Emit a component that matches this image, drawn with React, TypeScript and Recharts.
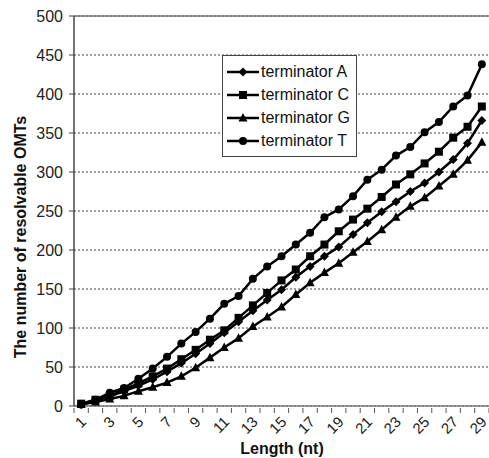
import { LineChart, Line, XAxis, YAxis, CartesianGrid, ReferenceLine } from "recharts";

const lengths = [1, 2, 3, 4, 5, 6, 7, 8, 9, 10, 11, 12, 13, 14, 15, 16, 17, 18, 19, 20, 21, 22, 23, 24, 25, 26, 27, 28, 29];
const termA = [2, 7, 12, 19, 26, 34, 44, 55, 67, 80, 94, 108, 122, 136, 149, 165, 179, 192, 204, 220, 235, 249, 262, 275, 286, 300, 316, 337, 366];
const termC = [3, 8, 13, 21, 29, 38, 48, 60, 72, 85, 97, 113, 129, 145, 161, 175, 192, 207, 224, 239, 253, 268, 284, 297, 311, 326, 344, 358, 384];
const termG = [2, 5, 9, 13, 19, 24, 30, 38, 49, 62, 75, 87, 102, 114, 127, 143, 158, 171, 183, 197, 211, 226, 242, 256, 267, 282, 297, 315, 338];
const termT = [2, 8, 17, 23, 35, 48, 63, 80, 95, 112, 131, 141, 163, 179, 192, 207, 222, 242, 252, 269, 290, 303, 321, 332, 351, 364, 384, 398, 438];
const yTicks = [0, 50, 100, 150, 200, 250, 300, 350, 400, 450, 500];

const data = lengths.map((len, i) => ({
  len,
  A: termA[i],
  C: termC[i],
  G: termG[i],
  T: termT[i],
}));

const FONT = "'Liberation Sans', Arial, sans-serif";
const HALF_BAND = 7.16;

const Diamond = ({ cx, cy }: any) => (
  <path d={`M${cx},${cy - 4.5}L${cx + 4.5},${cy}L${cx},${cy + 4.5}L${cx - 4.5},${cy}Z`} fill="#000" />
);
const Square = ({ cx, cy }: any) => <rect x={cx - 4} y={cy - 4} width={8} height={8} fill="#000" />;
const Triangle = ({ cx, cy }: any) => (
  <path d={`M${cx},${cy - 5}L${cx + 4.5},${cy + 3.5}L${cx - 4.5},${cy + 3.5}Z`} fill="#000" />
);
const Circle = ({ cx, cy }: any) => <circle cx={cx} cy={cy} r={4} fill="#000" />;

const series = [
  { key: "A", name: "terminator A", shape: Diamond },
  { key: "C", name: "terminator C", shape: Square },
  { key: "G", name: "terminator G", shape: Triangle },
  { key: "T", name: "terminator T", shape: Circle },
];

const XTick = ({ x, y, payload, index }: any) => {
  const showLabel = payload.value % 2 === 1;
  return (
    <g>
      <line x1={x - HALF_BAND} y1={y} x2={x - HALF_BAND} y2={y + 5} stroke="#555" />
      {index === lengths.length - 1 && (
        <line x1={x + HALF_BAND} y1={y} x2={x + HALF_BAND} y2={y + 5} stroke="#555" />
      )}
      {showLabel && (
        <text
          transform={`translate(${x + 2},${y + 11}) rotate(-45)`}
          textAnchor="end"
          dominantBaseline="central"
          fontSize={15}
          fontFamily={FONT}
          fill="#222"
        >
          {payload.value}
        </text>
      )}
    </g>
  );
};

const LegendBox = () => (
  <div
    style={{
      position: "absolute",
      left: 222,
      top: 55,
      border: "1px solid #444",
      background: "#fff",
      padding: "4px 6px 4px 3px",
      fontFamily: FONT,
      fontSize: 16,
      color: "#111",
    }}
  >
    {series.map((s) => {
      const Shape = s.shape;
      return (
        <div key={s.key} style={{ display: "flex", alignItems: "center", height: 23 }}>
          <svg width={34} height={14} style={{ marginRight: 1 }}>
            <line x1={1} y1={7} x2={33} y2={7} stroke="#000" strokeWidth={2.5} />
            <Shape cx={17} cy={7} />
          </svg>
          <span>{s.name}</span>
        </div>
      );
    })}
  </div>
);

export default function App() {
  return (
    <div style={{ position: "absolute", left: 0, top: 0, width: 489, height: 458, background: "#fff" }}>
      <LineChart width={489} height={458} data={data} margin={{ top: 16, right: 0, left: 30, bottom: 22 }}>
        <CartesianGrid vertical={false} stroke="#444" strokeDasharray="2 2" />
        <ReferenceLine y={500} stroke="#777" strokeWidth={1.5} />
        <XAxis
          dataKey="len"
          interval={0}
          padding={{ left: HALF_BAND, right: HALF_BAND }}
          tickLine={false}
          tickSize={0}
          tick={<XTick />}
          height={30}
          axisLine={{ stroke: "#777", strokeWidth: 1.5 }}
        />
        <YAxis
          domain={[0, 500]}
          ticks={yTicks}
          width={44}
          tickSize={5}
          tickMargin={6}
          interval={0}
          tick={{ fontSize: 16, fontFamily: FONT, fill: "#222" }}
          tickLine={{ stroke: "#444" }}
          axisLine={{ stroke: "#444", strokeWidth: 1.5 }}
        />
        {series.map((s) => {
          const Shape = s.shape;
          return (
            <Line
              key={s.key}
              dataKey={s.key}
              name={s.name}
              stroke="#000"
              strokeWidth={2.5}
              isAnimationActive={false}
              dot={(p: any) => <Shape key={`${s.key}-${p.index}`} cx={p.cx} cy={p.cy} />}
              activeDot={false}
            />
          );
        })}
      </LineChart>
      <LegendBox />
      <div
        style={{
          position: "absolute",
          left: 21,
          top: 237,
          transform: "translate(-50%, -50%) rotate(-90deg)",
          whiteSpace: "nowrap",
          fontFamily: FONT,
          fontWeight: "bold",
          fontSize: 16,
          color: "#111",
        }}
      >
        The number of resolvable OMTs
      </div>
      <div
        style={{
          position: "absolute",
          left: 282,
          top: 449,
          transform: "translate(-50%, -50%)",
          whiteSpace: "nowrap",
          fontFamily: FONT,
          fontWeight: "bold",
          fontSize: 16,
          color: "#111",
        }}
      >
        Length (nt)
      </div>
    </div>
  );
}
